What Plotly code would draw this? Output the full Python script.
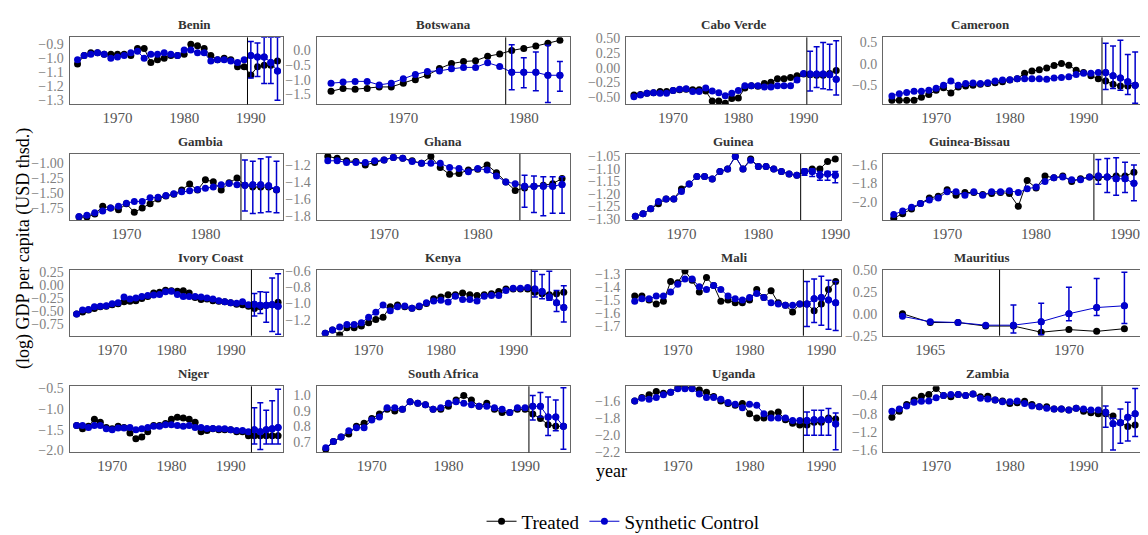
import plotly.graph_objects as go

countries = ["Benin", "Botswana", "Cabo Verde", "Cameroon", "Gambia", "Ghana", "Guinea", "Guinea-Bissau",
             "Ivory Coast", "Kenya", "Mali", "Mauritius", "Niger", "South Africa", "Uganda", "Zambia"]
start_year = [1964, 1964, 1964, 1964, 1964, 1964, 1964, 1964, 1964, 1964, 1964, 1964, 1964, 1964, 1964, 1964]
treat_year = [1989.5, 1978.5, 1990.5, 1992.5, 1984.5, 1984.5, 1985.5, 1986.5,
              1993.5, 1992.5, 1987.5, 1967.5, 1993.5, 1990.5, 1987.5, 1992.5]

benin_t = [-1.04,-0.98,-0.96,-0.96,-0.97,-0.97,-0.97,-0.97,-0.98,-0.93,-0.93,-1.03,-1.01,-1.00,-0.98,-0.98,-0.97,-0.90,-0.91,-0.93,-0.98,-1.01,-1.00,-1.01,-1.06,-1.06,-1.12,-1.06,-1.05,-1.05,-1.02]
benin_s = [-1.01,-0.98,-0.97,-0.96,-0.97,-1.00,-0.99,-0.98,-0.96,-0.95,-1.00,-0.97,-0.97,-0.96,-0.97,-0.98,-0.94,-0.94,-0.96,-0.96,-1.02,-1.01,-1.01,-1.02,-1.03,-1.01,-0.98,-0.99,-0.99,-1.03,-1.09]
benin_hi = [-0.88,-0.89,-0.85,-0.85,-0.85]
benin_lo = [-1.14,-1.13,-1.18,-1.18,-1.30]

botswana_t = [-1.40,-1.30,-1.33,-1.30,-1.25,-1.25,-1.12,-1.00,-0.85,-0.62,-0.45,-0.38,-0.35,-0.20,-0.12,0.00,0.07,0.15,0.25,0.35]
botswana_s = [-1.12,-1.08,-1.06,-1.06,-1.18,-1.12,-0.97,-0.82,-0.72,-0.70,-0.63,-0.58,-0.58,-0.42,-0.55,-0.75,-0.75,-0.75,-0.85,-0.85]
botswana_hi = [0.20,-0.25,-0.05,0.18,-0.38]
botswana_lo = [-1.35,-1.28,-1.38,-1.78,-1.40]

caboverde_t = [-0.47,-0.46,-0.44,-0.43,-0.41,-0.41,-0.39,-0.38,-0.37,-0.38,-0.38,-0.40,-0.57,-0.57,-0.61,-0.53,-0.52,-0.35,-0.31,-0.32,-0.27,-0.25,-0.19,-0.19,-0.17,-0.14,-0.11,-0.12,-0.13,-0.13,-0.10,-0.05]
caboverde_s = [-0.50,-0.47,-0.44,-0.43,-0.44,-0.44,-0.39,-0.37,-0.36,-0.41,-0.41,-0.35,-0.40,-0.43,-0.48,-0.44,-0.39,-0.31,-0.31,-0.31,-0.33,-0.33,-0.31,-0.31,-0.31,-0.21,-0.10,-0.11,-0.11,-0.11,-0.12,-0.20]
caboverde_hi = [0.28,0.36,0.43,0.40,0.46]
caboverde_lo = [-0.40,-0.34,-0.36,-0.38,-0.47]

cameroon_t = [-0.85,-0.85,-0.85,-0.85,-0.78,-0.72,-0.62,-0.56,-0.68,-0.54,-0.52,-0.50,-0.48,-0.46,-0.44,-0.42,-0.38,-0.35,-0.22,-0.17,-0.14,-0.10,-0.04,0.01,-0.03,-0.15,-0.20,-0.28,-0.35,-0.40,-0.48,-0.52,-0.52,-0.50]
cameroon_s = [-0.75,-0.70,-0.67,-0.64,-0.64,-0.62,-0.57,-0.50,-0.40,-0.50,-0.46,-0.45,-0.46,-0.44,-0.40,-0.38,-0.37,-0.35,-0.35,-0.35,-0.35,-0.36,-0.33,-0.32,-0.30,-0.25,-0.22,-0.22,-0.20,-0.20,-0.28,-0.33,-0.42,-0.50]
cameroon_hi = [0.48,0.42,0.55,0.22,0.28]
cameroon_lo = [-0.60,-0.58,-0.62,-0.72,-0.92]

gambia_t = [-1.90,-1.90,-1.85,-1.72,-1.75,-1.78,-1.68,-1.82,-1.75,-1.68,-1.60,-1.55,-1.52,-1.45,-1.35,-1.45,-1.28,-1.31,-1.45,-1.33,-1.25,-1.37,-1.40,-1.40,-1.40,-1.45]
gambia_s = [-1.89,-1.87,-1.83,-1.80,-1.75,-1.72,-1.67,-1.64,-1.64,-1.58,-1.57,-1.54,-1.51,-1.48,-1.46,-1.44,-1.42,-1.40,-1.36,-1.34,-1.36,-1.37,-1.36,-1.36,-1.38,-1.44]
gambia_hi = [-0.95,-0.97,-0.93,-0.90,-0.97]
gambia_lo = [-1.80,-1.84,-1.83,-1.81,-1.83]

ghana_t = [-1.10,-1.12,-1.15,-1.16,-1.20,-1.17,-1.14,-1.11,-1.12,-1.15,-1.18,-1.10,-1.23,-1.31,-1.30,-1.26,-1.25,-1.20,-1.29,-1.40,-1.50,-1.47,-1.45,-1.44,-1.42,-1.36]
ghana_s = [-1.15,-1.15,-1.17,-1.17,-1.17,-1.15,-1.14,-1.11,-1.12,-1.16,-1.18,-1.18,-1.18,-1.23,-1.24,-1.28,-1.24,-1.26,-1.33,-1.40,-1.42,-1.45,-1.45,-1.45,-1.45,-1.43]
ghana_hi = [-1.32,-1.33,-1.34,-1.34,-1.34]
ghana_lo = [-1.70,-1.76,-1.80,-1.77,-1.77]

guinea_t = [-1.29,-1.28,-1.26,-1.24,-1.22,-1.22,-1.18,-1.16,-1.13,-1.13,-1.14,-1.11,-1.10,-1.05,-1.10,-1.06,-1.09,-1.09,-1.10,-1.11,-1.12,-1.125,-1.11,-1.10,-1.10,-1.07,-1.06]
guinea_s = [-1.29,-1.28,-1.26,-1.23,-1.22,-1.22,-1.19,-1.16,-1.13,-1.13,-1.14,-1.11,-1.10,-1.05,-1.10,-1.065,-1.09,-1.09,-1.10,-1.11,-1.12,-1.125,-1.11,-1.11,-1.125,-1.12,-1.125]
guinea_hi = [-1.10,-1.10,-1.11,-1.11,-1.11]
guinea_lo = [-1.125,-1.13,-1.145,-1.145,-1.155]

gbissau_t = [-2.18,-2.13,-2.08,-2.02,-1.96,-1.94,-1.87,-1.93,-1.90,-1.90,-1.92,-1.91,-1.90,-1.91,-2.05,-1.77,-1.85,-1.72,-1.74,-1.72,-1.78,-1.75,-1.73,-1.74,-1.73,-1.72,-1.72,-1.68]
gbissau_s = [-2.14,-2.10,-2.06,-2.02,-1.98,-1.96,-1.89,-1.89,-1.93,-1.89,-1.93,-1.89,-1.89,-1.88,-1.90,-1.86,-1.84,-1.78,-1.74,-1.73,-1.76,-1.76,-1.73,-1.72,-1.73,-1.75,-1.75,-1.80]
gbissau_hi = [-1.54,-1.53,-1.52,-1.57,-1.60]
gbissau_lo = [-1.81,-1.90,-1.93,-1.90,-1.99]

ivory_t = [-0.56,-0.52,-0.48,-0.45,-0.42,-0.41,-0.38,-0.36,-0.32,-0.31,-0.30,-0.26,-0.22,-0.15,-0.14,-0.10,-0.11,-0.12,-0.11,-0.15,-0.24,-0.28,-0.27,-0.30,-0.31,-0.32,-0.34,-0.37,-0.38,-0.41,-0.45,-0.42,-0.39,-0.38,-0.33]
ivory_s = [-0.56,-0.48,-0.47,-0.42,-0.41,-0.40,-0.36,-0.34,-0.23,-0.27,-0.25,-0.22,-0.20,-0.19,-0.18,-0.13,-0.12,-0.18,-0.22,-0.22,-0.22,-0.23,-0.25,-0.27,-0.30,-0.32,-0.34,-0.35,-0.32,-0.38,-0.37,-0.39,-0.39,-0.38,-0.41]
ivory_hi = [-0.16,-0.13,-0.14,0.14,0.22]
ivory_lo = [-0.60,-0.55,-0.72,-0.90,-0.95]

kenya_t = [-1.37,-1.33,-1.39,-1.30,-1.30,-1.28,-1.24,-1.20,-1.17,-1.04,-1.02,-1.04,-1.06,-1.04,-1.00,-0.94,-0.92,-0.89,-0.89,-0.87,-0.89,-0.90,-0.89,-0.88,-0.85,-0.82,-0.82,-0.82,-0.82,-0.86,-0.88,-0.89,-0.88,-0.86]
kenya_s = [-1.37,-1.33,-1.29,-1.26,-1.26,-1.24,-1.17,-1.11,-1.02,-1.09,-1.04,-1.03,-1.06,-1.03,-0.99,-0.97,-0.96,-0.98,-0.91,-0.95,-0.95,-0.97,-0.91,-0.90,-0.90,-0.84,-0.81,-0.81,-0.80,-0.82,-0.85,-0.92,-0.99,-1.05]
kenya_hi = [-0.60,-0.64,-0.60,-0.84,-0.78]
kenya_lo = [-0.92,-0.94,-0.96,-1.10,-1.23]

mali_t = [-1.47,-1.47,-1.50,-1.53,-1.51,-1.36,-1.37,-1.28,-1.35,-1.44,-1.33,-1.39,-1.51,-1.50,-1.52,-1.52,-1.50,-1.42,-1.48,-1.43,-1.52,-1.54,-1.59,-1.53,-1.53,-1.58,-1.53,-1.42,-1.36]
mali_s = [-1.51,-1.49,-1.49,-1.47,-1.47,-1.44,-1.38,-1.34,-1.34,-1.40,-1.42,-1.39,-1.42,-1.47,-1.49,-1.50,-1.48,-1.45,-1.48,-1.52,-1.53,-1.54,-1.54,-1.53,-1.53,-1.49,-1.48,-1.50,-1.52]
mali_hi = [-1.36,-1.34,-1.32,-1.35,-1.36]
mali_lo = [-1.70,-1.67,-1.69,-1.72,-1.73]

mauritius_t = [0.00,-0.10,-0.10,-0.14,-0.14,-0.21,-0.18,-0.20,-0.17]
mauritius_s = [-0.03,-0.09,-0.10,-0.13,-0.13,-0.09,0.00,0.07,0.09]
mauritius_hi = [0.10,0.12,0.30,0.40,0.47]
mauritius_lo = [-0.22,-0.24,-0.08,-0.02,-0.11]

niger_t = [-1.40,-1.48,-1.42,-1.25,-1.32,-1.45,-1.48,-1.42,-1.45,-1.58,-1.72,-1.68,-1.55,-1.40,-1.40,-1.35,-1.25,-1.20,-1.22,-1.25,-1.32,-1.55,-1.52,-1.48,-1.50,-1.50,-1.50,-1.55,-1.55,-1.65,-1.65,-1.65,-1.65,-1.65,-1.65]
niger_s = [-1.40,-1.40,-1.45,-1.40,-1.40,-1.48,-1.50,-1.46,-1.46,-1.45,-1.50,-1.48,-1.45,-1.42,-1.42,-1.38,-1.38,-1.40,-1.42,-1.40,-1.45,-1.45,-1.47,-1.47,-1.48,-1.48,-1.50,-1.52,-1.52,-1.55,-1.50,-1.55,-1.50,-1.48,-1.45]
niger_hi = [-0.97,-0.85,-1.03,-0.80,-0.52]
niger_lo = [-1.85,-1.98,-1.85,-1.85,-1.85]

safrica_t = [0.65,0.70,0.73,0.75,0.80,0.82,0.85,0.88,0.91,0.90,0.91,0.96,0.95,0.94,0.91,0.91,0.93,0.97,1.00,0.97,0.93,0.95,0.91,0.89,0.89,0.91,0.91,0.88,0.85,0.81,0.80,0.80]
safrica_s = [0.66,0.70,0.73,0.77,0.79,0.79,0.84,0.86,0.92,0.92,0.91,0.96,0.95,0.94,0.91,0.92,0.95,0.96,0.95,0.94,0.93,0.93,0.92,0.91,0.89,0.92,0.92,0.93,0.93,0.86,0.86,0.80]
safrica_hi = [1.00,1.02,0.99,0.97,1.05]
safrica_lo = [0.84,0.86,0.74,0.77,0.65]

uganda_t = [-1.60,-1.56,-1.53,-1.49,-1.51,-1.50,-1.43,-1.44,-1.45,-1.47,-1.50,-1.55,-1.60,-1.63,-1.65,-1.63,-1.75,-1.80,-1.80,-1.75,-1.73,-1.82,-1.86,-1.88,-1.88,-1.85,-1.85,-1.80,-1.81]
uganda_s = [-1.60,-1.57,-1.58,-1.56,-1.53,-1.50,-1.46,-1.46,-1.46,-1.52,-1.56,-1.56,-1.58,-1.62,-1.64,-1.68,-1.64,-1.65,-1.75,-1.80,-1.80,-1.80,-1.83,-1.83,-1.83,-1.82,-1.82,-1.82,-1.87]
uganda_hi = [-1.73,-1.71,-1.71,-1.69,-1.74]
uganda_lo = [-2.00,-2.00,-2.00,-2.00,-2.17]

zambia_t = [-0.88,-0.75,-0.60,-0.50,-0.42,-0.38,-0.25,-0.40,-0.43,-0.38,-0.40,-0.37,-0.43,-0.42,-0.50,-0.52,-0.58,-0.56,-0.53,-0.60,-0.65,-0.65,-0.70,-0.70,-0.72,-0.68,-0.75,-0.78,-0.80,-0.80,-0.85,-1.00,-1.08,-1.05]
zambia_s = [-0.75,-0.70,-0.63,-0.55,-0.53,-0.52,-0.45,-0.40,-0.38,-0.38,-0.40,-0.37,-0.46,-0.48,-0.50,-0.54,-0.54,-0.52,-0.58,-0.63,-0.65,-0.68,-0.70,-0.70,-0.72,-0.68,-0.70,-0.72,-0.72,-0.77,-1.02,-1.00,-0.88,-0.80]
zambia_hi = [-0.63,-0.90,-0.70,-0.55,-0.25]
zambia_lo = [-1.10,-1.60,-1.45,-1.40,-1.30]

treated = [benin_t, botswana_t, caboverde_t, cameroon_t, gambia_t, ghana_t, guinea_t, gbissau_t,
           ivory_t, kenya_t, mali_t, mauritius_t, niger_t, safrica_t, uganda_t, zambia_t]
synth = [benin_s, botswana_s, caboverde_s, cameroon_s, gambia_s, ghana_s, guinea_s, gbissau_s,
         ivory_s, kenya_s, mali_s, mauritius_s, niger_s, safrica_s, uganda_s, zambia_s]
hi = [benin_hi, botswana_hi, caboverde_hi, cameroon_hi, gambia_hi, ghana_hi, guinea_hi, gbissau_hi,
      ivory_hi, kenya_hi, mali_hi, mauritius_hi, niger_hi, safrica_hi, uganda_hi, zambia_hi]
lo = [benin_lo, botswana_lo, caboverde_lo, cameroon_lo, gambia_lo, ghana_lo, guinea_lo, gbissau_lo,
      ivory_lo, kenya_lo, mali_lo, mauritius_lo, niger_lo, safrica_lo, uganda_lo, zambia_lo]

y_ranges = [[-1.33, -0.85], [-1.85, 0.45], [-0.63, 0.52], [-0.95, 0.62], [-1.95, -0.85], [-1.85, -1.07],
            [-1.305, -1.04], [-2.20, -1.48], [-0.98, 0.30], [-1.40, -0.58], [-1.77, -1.27], [-0.25, 0.50],
            [-2.05, -0.45], [0.63, 1.06], [-2.2, -1.43], [-1.65, -0.20]]
y_ticks = [[-1.3, -1.2, -1.1, -1.0, -0.9], [-1.5, -1.0, -0.5, 0.0], [-0.5, -0.25, 0, 0.25, 0.5], [-0.5, 0.0, 0.5],
           [-1.75, -1.5, -1.25, -1.0], [-1.8, -1.6, -1.4, -1.2], [-1.3, -1.25, -1.2, -1.15, -1.1, -1.05], [-2.0, -1.8, -1.6],
           [-0.75, -0.5, -0.25, 0, 0.25], [-1.2, -1.0, -0.8, -0.6], [-1.7, -1.6, -1.5, -1.4, -1.3], [-0.25, 0, 0.25, 0.5],
           [-2.0, -1.5, -1.0, -0.5], [0.7, 0.8, 0.9, 1.0], [-2.2, -2.0, -1.8, -1.6], [-1.6, -1.2, -0.8, -0.4]]
y_fmt = [".1f", ".1f", ".2f", ".1f", ".2f", ".1f", ".2f", ".1f", ".2f", ".1f", ".1f", ".2f", ".1f", ".1f", ".1f", ".1f"]

col_px = [(62, 277), (311, 566), (623, 840), (882, 1142)]
row_px = [(23, 92), (143, 211), (262, 330), (382, 450)]
W, H = 1148, 535
BLUE = "#0000CC"
FONT = "Liberation Serif"

fig = go.Figure()
for i, name in enumerate(countries):
    r, c = divmod(i, 4)
    n = len(treated[i])
    years = [start_year[i] + k for k in range(n)]
    npost = len(hi[i])
    post_years = years[-npost:]
    post_s = synth[i][-npost:]
    ax = "" if i == 0 else str(i + 1)
    xa, ya = "x" + ax, "y" + ax
    fig.add_trace(go.Scatter(x=years, y=treated[i], mode="lines+markers", name="Treated",
                             line=dict(color="black", width=1), marker=dict(color="black", size=7),
                             xaxis=xa, yaxis=ya, showlegend=(i == 0), legendrank=1))
    fig.add_trace(go.Scatter(x=years, y=synth[i], mode="lines+markers", name="Synthetic Control",
                             line=dict(color=BLUE, width=1), marker=dict(color=BLUE, size=7),
                             xaxis=xa, yaxis=ya, showlegend=(i == 0), legendrank=2))
    fig.add_trace(go.Scatter(x=post_years, y=post_s, mode="markers", marker=dict(color=BLUE, size=7),
                             error_y=dict(type="data", symmetric=False,
                                          array=[h - s for h, s in zip(hi[i], post_s)],
                                          arrayminus=[s - l for l, s in zip(lo[i], post_s)],
                                          color=BLUE, thickness=1.5, width=3),
                             xaxis=xa, yaxis=ya, showlegend=False, hoverinfo="skip"))
    x0, x1 = col_px[c]
    y0, y1 = row_px[r]
    xr = [years[0] - 1.2, years[-1] + 0.8] if name != "Mauritius" else [1963.3, 1972.6]
    xtick = [1965, 1970] if name == "Mauritius" else [1970, 1980, 1990]
    fig.update_layout(**{
        "xaxis" + ax: dict(domain=[x0 / W, x1 / W], anchor=ya, range=xr, tickvals=xtick,
                           showline=True, linecolor="#666", linewidth=1, mirror=True, showgrid=False,
                           zeroline=False, ticks="", tickfont=dict(family=FONT, size=15, color="#555")),
        "yaxis" + ax: dict(domain=[1 - y1 / H, 1 - y0 / H], anchor=xa, range=y_ranges[i], tickvals=y_ticks[i],
                           tickformat=y_fmt[i], showline=True, linecolor="#666", linewidth=1, mirror=True,
                           showgrid=False, zeroline=False, ticks="", ticklabelstandoff=2,
                           tickfont=dict(family=FONT, size=14, color="#7f7f7f")),
    })
    fig.add_shape(type="line", xref=xa, yref=ya + " domain", x0=treat_year[i], x1=treat_year[i], y0=0, y1=1,
                  line=dict(color="black", width=1))
    fig.add_annotation(text="<b>" + name + "</b>", xref="paper", yref="paper", x=(x0 + x1) / 2 / W,
                       y=1 - (y0 - 3) / H, yanchor="bottom", showarrow=False,
                       font=dict(family=FONT, size=13, color="#333"))

fig.add_annotation(text="year", xref="paper", yref="paper", x=608 / W, y=1 - 482 / H, showarrow=False,
                   font=dict(family=FONT, size=18, color="black"))
fig.add_annotation(text="(log) GDP per capita (USD thsd.)", xref="paper", yref="paper", x=0.002, xanchor="left",
                   y=1 - 240 / H, textangle=-90, showarrow=False, font=dict(family=FONT, size=18, color="black"))

fig.update_layout(width=W, height=H, margin=dict(l=0, r=0, t=0, b=0), plot_bgcolor="white", paper_bgcolor="white",
                  font=dict(family=FONT), showlegend=True,
                  legend=dict(orientation="h", x=0.54, xanchor="center", y=1 - 521 / H, yanchor="middle",
                              font=dict(family=FONT, size=19, color="black"), itemwidth=30, tracegroupgap=0))
fig.write_html("out.html")
